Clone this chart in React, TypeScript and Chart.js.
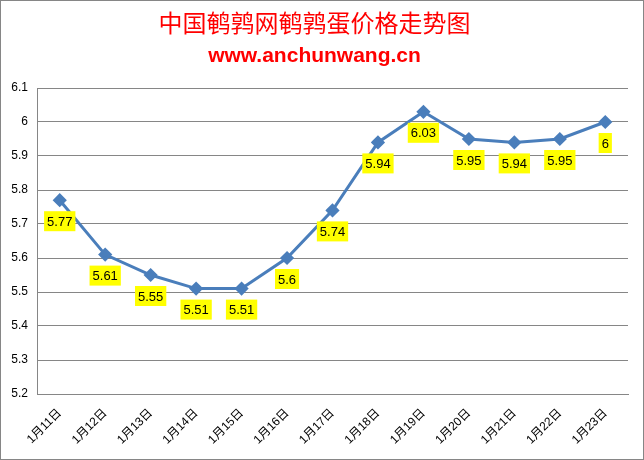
import React, { useEffect, useRef } from 'react';
import { Chart, registerables } from 'chart.js';

Chart.register(...registerables);

const days = ['1月11日', '1月12日', '1月13日', '1月14日', '1月15日', '1月16日', '1月17日', '1月18日', '1月19日', '1月20日', '1月21日', '1月22日', '1月23日'];
const prices = [5.77, 5.61, 5.55, 5.51, 5.51, 5.6, 5.74, 5.94, 6.03, 5.95, 5.94, 5.95, 6];

const FONT = '"Liberation Sans", "Noto Sans CJK SC", sans-serif';

const fmt = (v: number) => String(Number(v.toFixed(2)));

// yellow value boxes under each point
const valueBoxes = {
  id: 'valueBoxes',
  afterDatasetsDraw(chart: Chart) {
    const ctx = chart.ctx;
    const meta = chart.getDatasetMeta(0);
    ctx.save();
    ctx.font = `13px ${FONT}`;
    ctx.textAlign = 'center';
    ctx.textBaseline = 'middle';
    meta.data.forEach((pt, i) => {
      const text = fmt(prices[i]);
      const w = ctx.measureText(text).width + 6;
      const h = 20;
      const cx = pt.x;
      const cy = pt.y + 21;
      ctx.fillStyle = '#FFFF00';
      ctx.fillRect(cx - w / 2, cy - h / 2, w, h);
      ctx.fillStyle = '#000';
      ctx.fillText(text, cx, cy + 1);
    });
    ctx.restore();
  }
};

const App = () => {
  const canvasRef = useRef<HTMLCanvasElement>(null);
  const chartRef = useRef<Chart | null>(null);

  useEffect(() => {
    if (!canvasRef.current) return;
    const ctx = canvasRef.current.getContext('2d');
    if (!ctx) return;

    if (chartRef.current) chartRef.current.destroy();

    chartRef.current = new Chart(ctx, {
      type: 'line',
      data: {
        labels: days,
        datasets: [{
          data: prices,
          borderColor: '#4A7EBB',
          backgroundColor: '#4A7EBB',
          borderWidth: 3,
          pointStyle: 'rectRot',
          pointRadius: 5,
          pointHoverRadius: 5,
          tension: 0
        }]
      },
      options: {
        animation: false,
        responsive: true,
        maintainAspectRatio: false,
        layout: { padding: { left: 0, right: 15, top: 0, bottom: 0 } },
        plugins: {
          legend: { display: false },
          tooltip: { enabled: false },
          title: {
            display: true,
            text: '中国鹌鹑网鹌鹑蛋价格走势图',
            color: '#FF0000',
            font: { family: '"Noto Sans CJK SC", sans-serif', size: 24, weight: 'normal' },
            padding: { top: 7, bottom: 4 }
          },
          subtitle: {
            display: true,
            text: 'www.anchunwang.cn',
            color: '#FF0000',
            font: { family: FONT, size: 21, weight: 'bold' },
            padding: { top: 3, bottom: 19 }
          }
        },
        scales: {
          x: {
            offset: true,
            grid: { display: false, drawTicks: false },
            border: { color: '#868686', width: 1 },
            ticks: {
              color: '#000',
              font: { family: FONT, size: 12 },
              minRotation: 45,
              maxRotation: 45,
              padding: 12,
              autoSkip: false
            },
            afterFit: (scale: any) => { scale.height = 65; }
          },
          y: {
            min: 5.2,
            max: 6.1,
            grid: { color: '#868686', drawTicks: false },
            border: { color: '#868686', width: 1 },
            ticks: {
              stepSize: 0.1,
              color: '#000',
              font: { family: FONT, size: 12 },
              padding: 9,
              callback: (v: any) => fmt(Number(v))
            },
            afterFit: (scale: any) => { scale.width = 36; }
          }
        }
      },
      plugins: [valueBoxes]
    });

    return () => {
      if (chartRef.current) {
        chartRef.current.destroy();
        chartRef.current = null;
      }
    };
  }, []);

  return (
    <div style={{ position: 'fixed', left: 0, top: 0, width: 644, height: 460, boxSizing: 'border-box', border: '1px solid #868686', background: '#fff' }}>
      <canvas ref={canvasRef} />
    </div>
  );
};

export default App;
